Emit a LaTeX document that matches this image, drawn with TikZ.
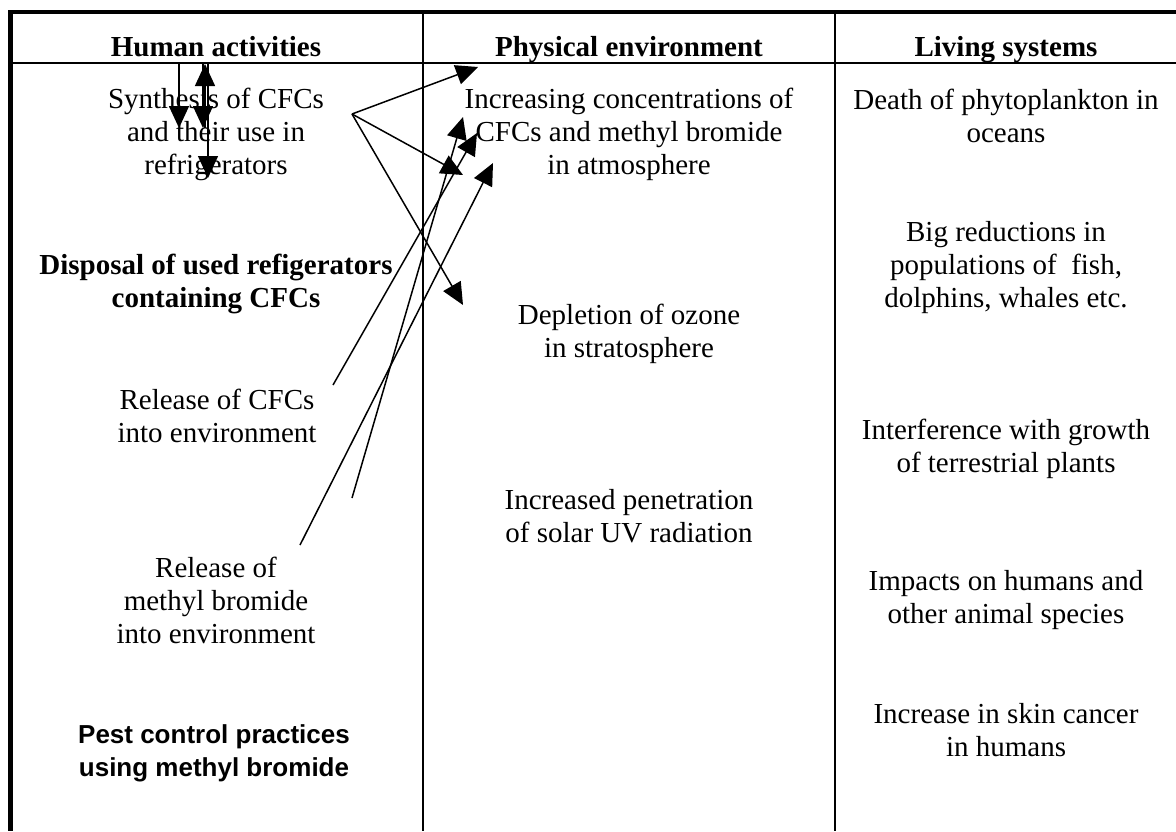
\documentclass[tikz,border=0pt]{standalone}
\usepackage{fontspec}
\setmainfont{Liberation Serif}
\newfontfamily\arialfont{Liberation Sans}
\usetikzlibrary{arrows.meta}

\begin{document}
\begin{tikzpicture}[x=0.5pt,y=-0.5pt,
			every node/.style={align=center,inner sep=0pt,font=\fontsize{14.5}{16.5}\selectfont},
			head/.style={anchor=base,font=\fontsize{14.5}{16.5}\selectfont\bfseries},
			link/.style={line width=0.75pt,-{Triangle[length=11pt,width=10pt]}}
			]
			\useasboundingbox (0,0) rectangle (1176,831);
			\draw[line width=1.8pt] (8,12) -- (1176,12);
			\draw[line width=2.4pt] (10.5,10) -- (10.5,831);
			\draw[line width=0.8pt] (10,63) -- (1176,63);
			\draw[line width=1pt] (423,12) -- (423,831);
			\draw[line width=1pt] (835,12) -- (835,831);
			\node[head](human) at (216,56) {Human activities};
			\node[head](phys) at (629,56) {Physical environment};
			\node[head](living) at (1006,56) {Living systems};
			\node(synth) at (216,134) {Synthesis of CFCs\\and their use in\\refrigerators};
			\node[font=\fontsize{14.5}{16.5}\selectfont\bfseries](disposal) at (216,284) {Disposal of used refigerators\\containing CFCs};
			\node(relcfc) at (217,416) {Release of CFCs\\into environment};
			\node(relmb) at (216,600) {Release of\\methyl bromide\\into environment};
			\node[font=\fontsize{13}{16.5}\arialfont\bfseries](pest) at (214,753) {Pest control practices\\using methyl bromide};
			\node(conc) at (629,134) {Increasing concentrations of\\CFCs and methyl bromide\\in atmosphere};
			\node(ozone) at (629,334) {Depletion of ozone\\in stratosphere};
			\node(uv) at (629,516) {Increased penetration\\of solar UV radiation};
			\node(phyto) at (1006,116) {Death of phytoplankton in\\oceans};
			\node(fish) at (1006,268) {Big reductions in\\populations of~ fish,\\dolphins, whales etc.};
			\node(plants) at (1006,449) {Interference with growth\\of terrestrial plants};
			\node(impact) at (1006,600) {Impacts on humans and\\other animal species};
			\node(skin) at (1006,730) {Increase in skin cancer\\in humans};
			\coordinate (fan) at (352,114);
			\coordinate (cfcend) at (333,385);
			\coordinate (mbendA) at (352,498);
			\coordinate (mbendB) at (300,545);
			\draw[link] (179,63) -- (179,128);
			\draw[link] (203,63) -- (203,128);
			\draw[link] (205,128) -- (205,64);
			\draw[link] (208,64) -- (208,178);
			\draw[link] (fan) -- (478,67);
			\draw[link] (fan) -- (463,175);
			\draw[link] (fan) -- (463,305);
			\draw[link] (cfcend) -- (477,133);
			\draw[link] (mbendA) -- (463,117);
			\draw[link] (mbendB) -- (493,163);
\end{tikzpicture}
\end{document}
